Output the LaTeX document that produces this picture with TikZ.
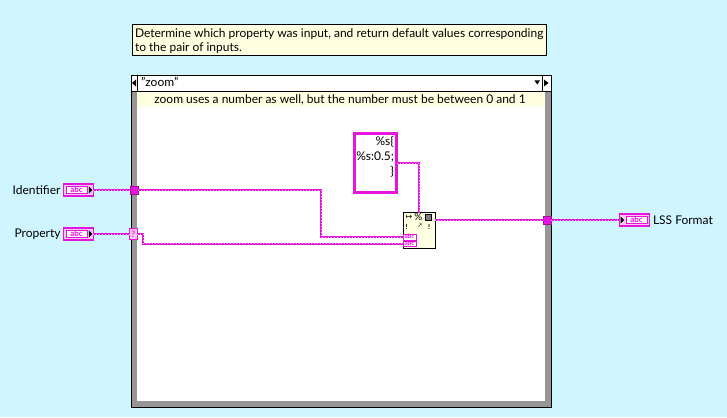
\documentclass[tikz,border=0pt]{standalone}
\usepackage{fontspec}
\setmainfont{Lato}
\newfontfamily\djv{DejaVu Sans}
\usetikzlibrary{calc}
\definecolor{bg}{RGB}{207,245,255}
\definecolor{cmt}{RGB}{255,255,225}
\definecolor{mag}{RGB}{230,20,220}
\definecolor{pinkl}{RGB}{250,200,246}
\definecolor{pinkw}{RGB}{250,170,240}
\definecolor{frm}{RGB}{150,150,150}
\begin{document}
\begin{tikzpicture}[x=1pt,y=-1pt,
  every node/.style={inner sep=0pt,outer sep=0pt},
  txt/.style={font=\fontsize{12}{14.4}\selectfont},
  note/.style={draw=black,fill=cmt,line width=0.8pt},
  term/.style={draw=mag,fill=pinkl,line width=1.2pt,minimum width=30pt,minimum height=12pt},
  abcbox/.style={draw=mag,fill=white,line width=0.6pt,minimum width=21pt,minimum height=7.5pt,text height=4.8pt,text depth=0pt,text=mag,font=\fontsize{8}{8}\selectfont\bfseries},
  inbox/.style={draw=mag,fill=white,line width=0.5pt,minimum width=13pt,minimum height=5.5pt,text height=3.8pt,text depth=0pt,text=mag,font=\fontsize{6}{6}\selectfont\bfseries},
  tunnel/.style={fill=mag,draw=mag!70!black,line width=0.5pt,minimum size=8pt},
  wire/.style={draw=mag,line width=2pt,postaction={draw=pinkl,line width=0.5pt,dash pattern=on 1pt off 2pt}},
]
\fill[bg] (0,0) rectangle (727,417);
\useasboundingbox (0,0) rectangle (727,417);

% comment
\node[note,anchor=north west,minimum width=414pt,minimum height=31pt] (note) at (132,24) {};
\node[txt,anchor=base west] (note1) at (135,37.3) {Determine which property was input, and return default values corresponding};
\node[txt,anchor=base west] (note2) at (135,51.7) {to the pair of inputs.};

% case structure
\node[draw=black,fill=frm,anchor=north west,minimum width=420pt,minimum height=332pt,line width=0.8pt] (case) at (131,75) {};
\node[fill=white,anchor=north west,minimum width=408pt,minimum height=294pt] (inner) at (137,107) {};
\node[fill=cmt,anchor=north west,minimum width=408pt,minimum height=16pt] (sub) at (137,91) {};
\node[txt,anchor=base] (subtext) at (340,103.3) {zoom uses a number as well, but the number must be between 0 and 1};
\node[draw=black,fill=white,anchor=north west,minimum width=420pt,minimum height=16pt,line width=0.8pt] (sel) at (131,75) {};
\node[txt,anchor=base west] (seltext) at (141,87) {"zoom"};
\draw[line width=0.8pt] ($(sel.north west)+(6,0)$) -- ($(sel.south west)+(6,0)$);
\draw[line width=0.8pt] ($(sel.north east)+(-8.5,0)$) -- ($(sel.south east)+(-8.5,0)$);
\fill (132,83) -- (136,79.5) -- (136,86.5) -- cycle;
\fill (544,79.5) -- (548.5,83) -- (544,86.5) -- cycle;
\fill (534.5,80.5) -- (540,80.5) -- (537.25,84.5) -- cycle;

% terminals
\node[term] (idt) at (78.3,190) {};
\node[abcbox] (idtabc) at ($(idt.center)+(-1.8,0)$) {abc};
\fill ($(idt.east)+(-4.5,-3.5)$) -- ($(idt.east)+(-1,0)$) -- ($(idt.east)+(-4.5,3.5)$) -- cycle;
\node[txt,anchor=east] (idl) at (60.5,190) {Identifier};

\node[term] (prt) at (78.3,234) {};
\node[abcbox] (prtabc) at ($(prt.center)+(-1.8,0)$) {abc};
\fill ($(prt.east)+(-4.5,-3.5)$) -- ($(prt.east)+(-1,0)$) -- ($(prt.east)+(-4.5,3.5)$) -- cycle;
\node[txt,anchor=east] (prl) at (60.5,234) {Property};

\node[term] (lss) at (634.5,220) {};
\node[abcbox] (lssabc) at ($(lss.center)+(2,0)$) {abc};
\fill ($(lss.west)+(1,-3.5)$) -- ($(lss.west)+(4.5,0)$) -- ($(lss.west)+(1,3.5)$) -- cycle;
\node[txt,anchor=west] (lssl) at (653,220) {LSS Format};

% tunnels
\node[tunnel] (tid) at (134,190) {};
\node[draw=mag,fill=pinkl,minimum width=7.5pt,minimum height=10.5pt,line width=0.6pt,text=mag!80!black,font=\fontsize{9}{9}\selectfont] (tsel) at (133.25,234) {?};
\node[tunnel] (tout) at (547,220) {};

% format string constant
\node[draw=mag,line width=3pt,fill=white,anchor=north west,minimum width=42pt,minimum height=59pt] (fmt) at (354.5,133.5) {};
\node[txt,anchor=base east] (f1) at (394,145.5) {\%s\{};
\node[txt,anchor=base east] (f2) at (394,160.5) {\%s:0.5;};
\node[txt,anchor=base east] (f3) at (394,175.5) {\}};

% Format Into String
\node[draw=black,fill=cmt,anchor=north west,minimum width=32pt,minimum height=36pt,line width=0.8pt] (fis) at (403,212.5) {};
\node[font=\djv\fontsize{8}{8}\selectfont] (ic1) at (409,217) {↦};
\node[font=\fontsize{10}{10}\selectfont] (ic2) at (418.5,217) {\%};
\node[draw=black,fill=black!50,minimum size=6.5pt,line width=0.5pt] (ic3) at (428,217) {};
\node[font=\fontsize{7}{7}\selectfont\bfseries] (ic4) at (406.5,226.5) {!};
\node[font=\djv\fontsize{6}{6}\selectfont] (ic5) at (420,225.5) {↗};
\node[font=\fontsize{7}{7}\selectfont\bfseries] (ic6) at (429,226.5) {!};
\node[inbox,anchor=west] (in1) at (403,237) {abc};
\node[inbox,anchor=west] (in2) at (403,243.5) {abc};

% wires
\draw[wire] (idt.east) -- (tid.west);
\draw[wire] (tid.east) -- ++(183,0) |- (in1.west);
\draw[wire] (prt.east) -- (tsel.west);
\draw[wire] (tsel.east) -- ++(6,0) |- (in2.west);
\draw[wire] (fmt.east) -| (fis.north);
\draw[wire] ($(fis.north east)+(0,7.5)$) -- (tout.west);
\draw[wire] (tout.east) -- (lss.west);
\end{tikzpicture}
\end{document}
